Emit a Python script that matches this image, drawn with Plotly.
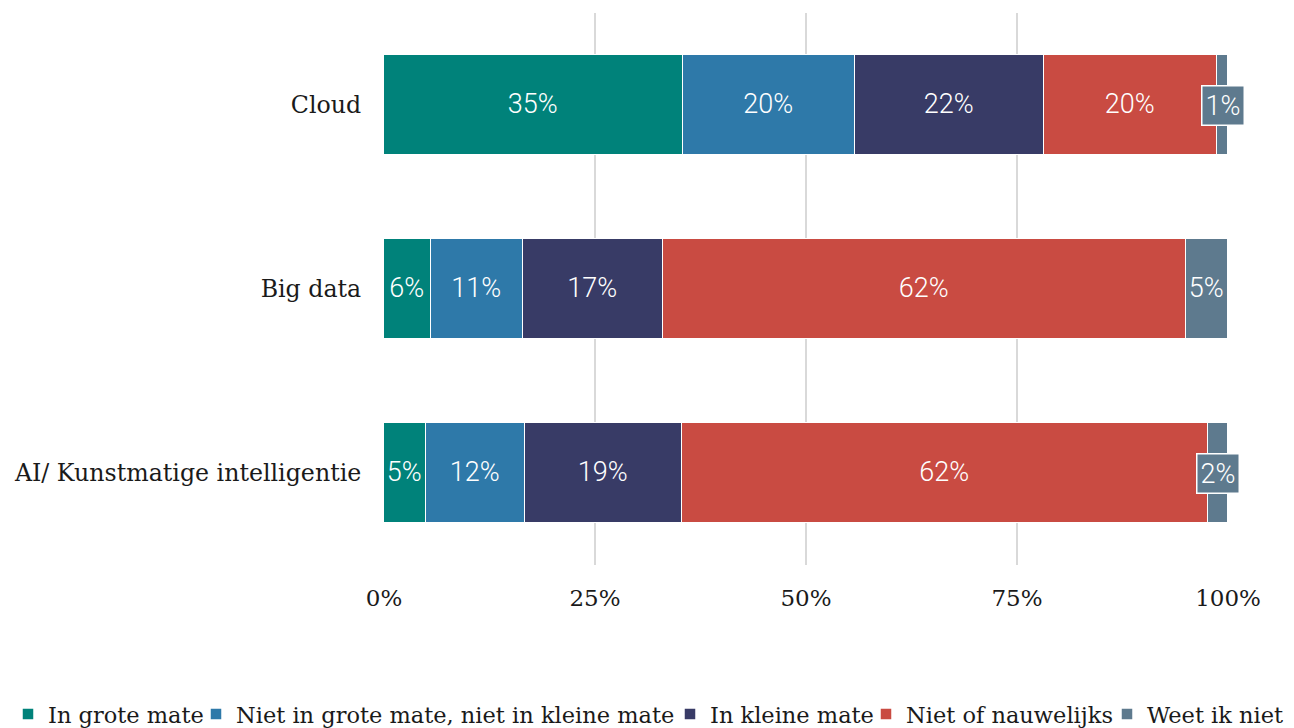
import plotly.graph_objects as go

categories = ["Cloud", "Big data", "AI/ Kunstmatige intelligentie"]
series_names = ["In grote mate", "Niet in grote mate, niet in kleine mate",
                "In kleine mate", "Niet of nauwelijks", "Weet ik niet"]
values = {
    "In grote mate": [35.4, 5.6, 5.0],
    "Niet in grote mate, niet in kleine mate": [20.4, 10.9, 11.7],
    "In kleine mate": [22.4, 16.6, 18.6],
    "Niet of nauwelijks": [20.5, 61.9, 62.3],
    "Weet ik niet": [1.3, 5.0, 2.4],
}
colors = ["#00827a", "#2e79a9", "#383b66", "#c94b42", "#5e7a8e"]
tick_vals = [0, 25, 50, 75, 100]
tick_text = ["0%", "25%", "50%", "75%", "100%"]
callout_threshold = 3.0

SERIF = "DejaVu Serif"
SANS = "Roboto"

FIG_W, FIG_H = 1286, 720
# left edges (container px) of each legend entry, laid out in one row
legend_left_px = [0, 188, 662, 858, 1099]
legend_ids = ["legend", "legend2", "legend3", "legend4", "legend5"]

fig = go.Figure()
for name, col, lid in zip(series_names, colors, legend_ids):
    vals = values[name]
    texts = [f"{v:.0f}%" if v >= callout_threshold else "" for v in vals]
    fig.add_trace(go.Bar(
        y=categories, x=vals, name=name, orientation="h", legend=lid,
        marker=dict(color=col, line=dict(color="white", width=1.5)),
        text=texts, textposition="inside", insidetextanchor="middle",
        textfont=dict(family=SANS, size=27, color="white", weight=300),
        constraintext="none", width=0.545, hoverinfo="skip",
    ))

# callout labels for small segments
cum = [0.0] * len(categories)
for name, col in zip(series_names, colors):
    vals = values[name]
    for i, v in enumerate(vals):
        if v < callout_threshold:
            fig.add_annotation(
                x=cum[i] + v / 2, y=categories[i], text=f"{v:.0f}%",
                showarrow=False, bgcolor=col, bordercolor="white", borderwidth=1.5,
                borderpad=3, font=dict(family=SANS, size=27, color="white", weight=300),
            )
        cum[i] += v

legend_style = dict(orientation="h", xref="container", yref="container",
                    xanchor="left", y=0.019, yanchor="middle",
                    font=dict(family=SERIF, size=22.5, color="#1a1a1a"),
                    itemwidth=30, bgcolor="rgba(0,0,0,0)")
legends = {}
for lid, px in zip(legend_ids, legend_left_px):
    legends[lid] = dict(legend_style, x=px / FIG_W)

fig.update_layout(
    barmode="stack",
    width=FIG_W, height=FIG_H,
    paper_bgcolor="white", plot_bgcolor="white",
    margin=dict(l=376, r=66, t=5, b=163, autoexpand=False),
    bargap=0.0,
    xaxis=dict(range=[0, 100], tickvals=tick_vals, ticktext=tick_text,
               showgrid=True, gridcolor="#d9d9d9", gridwidth=2, zeroline=False,
               showline=False, ticks="", ticklen=0, ticklabelstandoff=17,
               tickfont=dict(family=SERIF, size=23, color="#1a1a1a")),
    yaxis=dict(categoryorder="array", categoryarray=categories, autorange="reversed",
               range=[2.5, -0.5], showgrid=False, zeroline=False, showline=False,
               ticks="outside", ticklen=17, tickcolor="white",
               tickfont=dict(family=SERIF, size=23.7, color="#1a1a1a")),
    showlegend=True,
    **legends,
)

fig.write_html("out.html")
